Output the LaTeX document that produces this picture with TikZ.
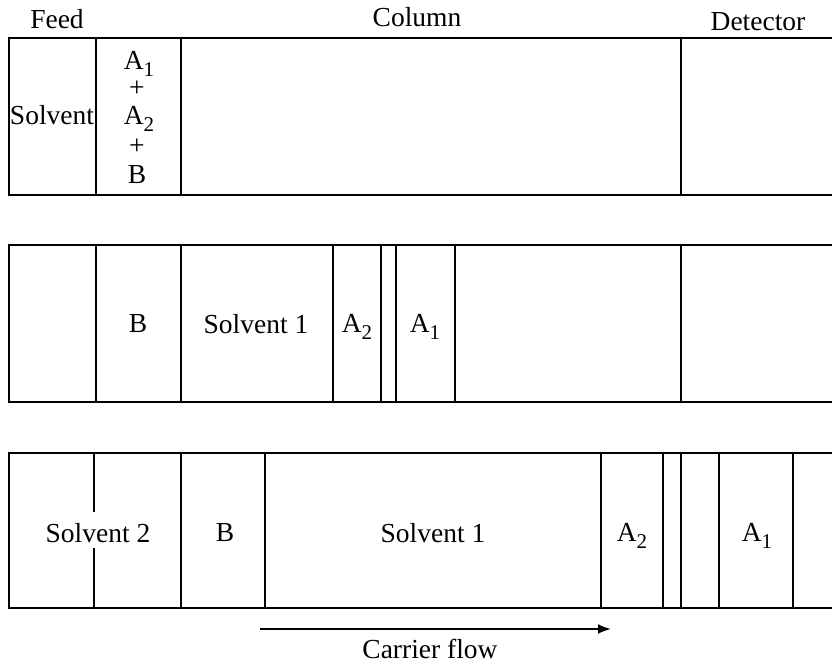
\documentclass[tikz,border=0pt]{standalone}
\usepackage{fontspec}
\setmainfont{Liberation Serif}
\usetikzlibrary{arrows.meta}
\newcommand{\subidx}[1]{\raisebox{-0.28em}{\fontsize{21}{22}\selectfont #1}}
\begin{document}
\begin{tikzpicture}[x=1pt,y=-1pt,line width=1.8pt,
  lbl/.style={inner sep=0pt,font=\fontsize{27.5}{29}\selectfont},
  bar/.style={line width=2pt}]
\useasboundingbox (0,0) rectangle (832,664);
% headings
\node[lbl] (feed) at (57,19) {Feed};
\node[lbl] (column) at (417,17) {Column};
\node[lbl] (detector) at (758,22) {Detector};
% Row 1
\draw[bar] (832,38) -- (9,38) -- (9,195) -- (832,195);
\draw[bar] (96,38) -- (96,195);
\draw[bar] (181,38) -- (181,195);
\draw[bar] (681,38) -- (681,195);
\node[lbl] (r1s) at (52,115) {Solvent};
\node[lbl] (r1a) at (139,64) {A\subidx{1}};
\node[lbl] (r1p1) at (137,89) {+};
\node[lbl] (r1b) at (139,119) {A\subidx{2}};
\node[lbl] (r1p2) at (137,147) {+};
\node[lbl] (r1c) at (137,175) {B};
% Row 2
\draw[bar] (832,245) -- (9,245) -- (9,402) -- (832,402);
\foreach \x in {96,181,333,381,396,455,681} \draw[bar] (\x,245) -- (\x,402);
\node[lbl] (r2b) at (138,324) {B};
\node[lbl] (r2s) at (256,324) {Solvent 1};
\node[lbl] (r2a2) at (357,327) {A\subidx{2}};
\node[lbl] (r2a1) at (425,327) {A\subidx{1}};
% Row 3
\draw[bar] (832,453) -- (9,453) -- (9,608) -- (832,608);
\draw[bar] (94,453) -- (94,512);
\draw[bar] (94,548) -- (94,608);
\foreach \x in {181,265,601,663,681,719,793} \draw[bar] (\x,453) -- (\x,608);
\node[lbl] (r3s2) at (98,533) {Solvent 2};
\node[lbl] (r3b) at (225,533) {B};
\node[lbl] (r3s1) at (433,533) {Solvent 1};
\node[lbl] (r3a2) at (632,536) {A\subidx{2}};
\node[lbl] (r3a1) at (757,536) {A\subidx{1}};
% carrier flow arrow
\coordinate (fs) at (260,629);
\coordinate (fe) at (611,629);
\draw[line width=2pt,-{Latex[length=13pt,width=10pt]}] (fs) -- (fe);
\node[lbl] (carrier) at (430,649) {Carrier flow};
\end{tikzpicture}
\end{document}
